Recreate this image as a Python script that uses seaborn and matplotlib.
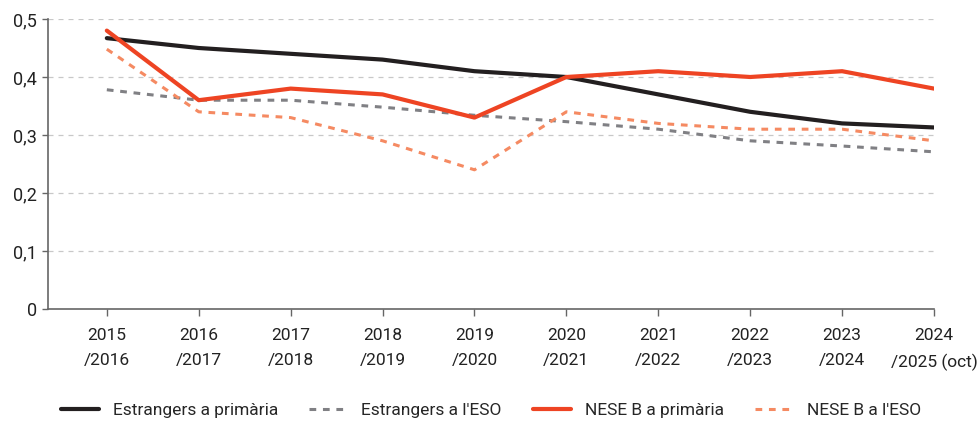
import matplotlib
matplotlib.use("Agg")
import matplotlib.pyplot as plt
import seaborn as sns
import pandas as pd
import numpy as np

categories = ["2015\n/2016", "2016\n/2017", "2017\n/2018", "2018\n/2019", "2019\n/2020",
              "2020\n/2021", "2021\n/2022", "2022\n/2023", "2023\n/2024", "2024\n/2025 (oct)"]
estrangers_primaria = [0.467, 0.45, 0.44, 0.43, 0.41, 0.40, 0.37, 0.34, 0.32, 0.313]
estrangers_eso = [0.378, 0.36, 0.36, 0.348, 0.334, 0.323, 0.31, 0.29, 0.281, 0.271]
nese_primaria = [0.48, 0.36, 0.38, 0.37, 0.33, 0.40, 0.41, 0.40, 0.41, 0.38]
nese_eso = [0.448, 0.34, 0.33, 0.29, 0.24, 0.34, 0.32, 0.31, 0.31, 0.29]
series_names = ["Estrangers a primària", "Estrangers a l'ESO", "NESE B a primària", "NESE B a l'ESO"]
yticks = [0, 0.1, 0.2, 0.3, 0.4, 0.5]
ytick_labels = ["0", "0,1", "0,2", "0,3", "0,4", "0,5"]

sns.set_theme(style="white")
plt.rcParams['font.family'] = ['Roboto', 'DejaVu Sans']

rows = []
for name, vals in zip(series_names, [estrangers_primaria, estrangers_eso, nese_primaria, nese_eso]):
    for i, v in enumerate(vals):
        rows.append({"x": i, "y": v, "serie": name})
df = pd.DataFrame(rows)

styles = {
    series_names[0]: dict(color="#231f20", lw=3.0, ls="-"),
    series_names[1]: dict(color="#808084", lw=2.2, ls=(0, (2.2, 2.2))),
    series_names[2]: dict(color="#ee4423", lw=3.0, ls="-"),
    series_names[3]: dict(color="#f58a62", lw=2.2, ls=(0, (2.2, 2.2))),
}

fig = plt.figure(figsize=(9.78, 4.21), dpi=100)
ax = fig.add_axes([48/978, 1 - 309/421, (934-48)/978, (309-19)/421])

for name in series_names:
    st = styles[name]
    sns.lineplot(data=df[df.serie == name], x="x", y="y", ax=ax, color=st["color"],
                 linewidth=st["lw"], linestyle=st["ls"], label=name, zorder=3)

ax.set_xlim(-0.64, 9)
ax.set_ylim(0, 0.5)
ax.set_xticks(range(len(categories)))
ax.set_xticklabels(categories, fontsize=12.5, color="#222222", linespacing=1.8)
ax.set_yticks(yticks)
ax.set_yticklabels(ytick_labels, fontsize=13, color="#222222")
ax.set_xlabel("")
ax.set_ylabel("")
for y in yticks[1:]:
    ax.axhline(y, color="#c8c8c8", lw=0.9, ls=(0, (4, 4)), zorder=1)
for s in ["top", "right"]:
    ax.spines[s].set_visible(False)
for s in ["left", "bottom"]:
    ax.spines[s].set_color("#666666")
    ax.spines[s].set_linewidth(1.2)
ax.tick_params(axis="x", direction="out", length=5, width=1, color="#666666", pad=9)
ax.tick_params(axis="y", direction="out", length=4, width=1, color="#666666", pad=4)
ax.tick_params(left=True, bottom=True)

ax.legend(loc="center", bbox_to_anchor=(0.5, (1 - 410/421 - (1 - 309/421)) / ((309-19)/421)),
          ncol=4, frameon=False, fontsize=12.5, handlelength=2.2, columnspacing=1.8,
          borderaxespad=0)

fig.savefig("out.png", dpi=100)
